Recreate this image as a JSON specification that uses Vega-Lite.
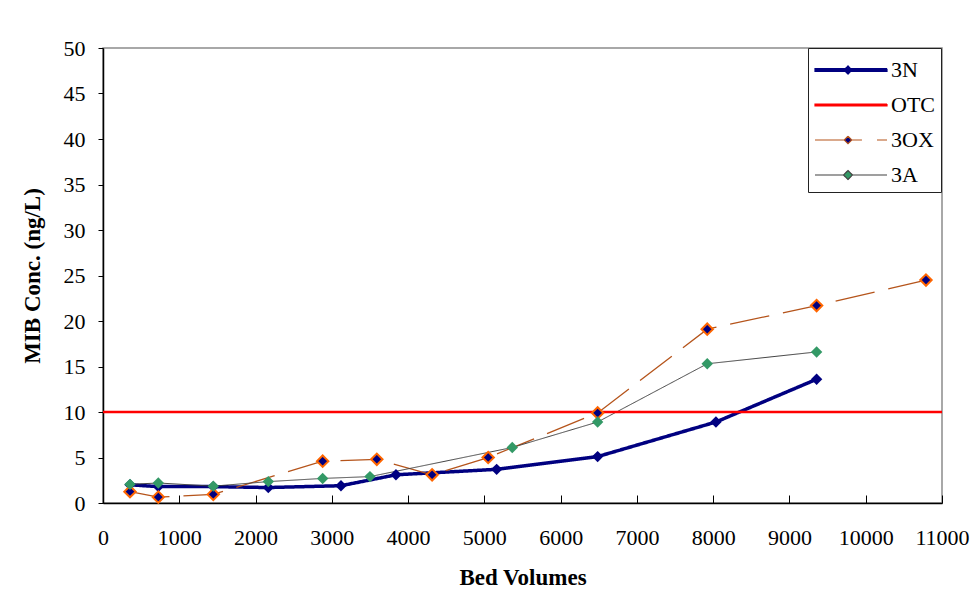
{
  "$schema": "https://vega.github.io/schema/vega-lite/v6.json",
  "width": 839,
  "height": 455,
  "autosize": {"type": "none"},
  "padding": {"left": 103, "top": 48, "right": 29, "bottom": 101},
  "background": "white",
  "config": {
    "view": {"stroke": "#8c8c8c", "strokeWidth": 1.5},
    "font": "Liberation Serif",
    "axis": {
      "grid": false,
      "domainColor": "#000000",
      "domainWidth": 1.5,
      "tickColor": "#000000",
      "tickWidth": 1,
      "labelFont": "Liberation Serif",
      "labelFontSize": 22,
      "labelColor": "#000000",
      "titleFont": "Liberation Serif",
      "titleFontSize": 23,
      "titleFontWeight": "bold",
      "titleColor": "#000000"
    }
  },
  "datasets": {
    "mib": [
      {"series": "3N", "bv": 354, "mib": 2.0},
      {"series": "3N", "bv": 725, "mib": 1.8},
      {"series": "3N", "bv": 1446, "mib": 1.8},
      {"series": "3N", "bv": 2167, "mib": 1.7},
      {"series": "3N", "bv": 3120, "mib": 1.9},
      {"series": "3N", "bv": 3841, "mib": 3.1},
      {"series": "3N", "bv": 5161, "mib": 3.7},
      {"series": "3N", "bv": 6485, "mib": 5.1},
      {"series": "3N", "bv": 8036, "mib": 8.9},
      {"series": "3N", "bv": 9356, "mib": 13.6},
      {"series": "OTC", "bv": null, "mib": 10},
      {"series": "3OX", "bv": 354, "mib": 1.25},
      {"series": "3OX", "bv": 725, "mib": 0.65},
      {"series": "3OX", "bv": 1446, "mib": 0.95},
      {"series": "3OX", "bv": 2880, "mib": 4.6},
      {"series": "3OX", "bv": 3590, "mib": 4.8},
      {"series": "3OX", "bv": 4315, "mib": 3.1},
      {"series": "3OX", "bv": 5050, "mib": 5.0},
      {"series": "3OX", "bv": 6485, "mib": 9.9},
      {"series": "3OX", "bv": 7922, "mib": 19.1},
      {"series": "3OX", "bv": 9356, "mib": 21.7},
      {"series": "3OX", "bv": 10790, "mib": 24.5},
      {"series": "3A", "bv": 354, "mib": 2.05},
      {"series": "3A", "bv": 725, "mib": 2.2},
      {"series": "3A", "bv": 1446, "mib": 1.85},
      {"series": "3A", "bv": 2167, "mib": 2.35},
      {"series": "3A", "bv": 2880, "mib": 2.7},
      {"series": "3A", "bv": 3500, "mib": 2.9},
      {"series": "3A", "bv": 5366, "mib": 6.1},
      {"series": "3A", "bv": 6485, "mib": 8.9},
      {"series": "3A", "bv": 7922, "mib": 15.3},
      {"series": "3A", "bv": 9356, "mib": 16.6}
    ]
  },
  "data": {"name": "mib"},
  "layer": [
    {
      "transform": [{"filter": "datum.series !== 'OTC'"}],
      "mark": {"type": "line", "clip": false},
      "encoding": {
        "x": {
          "field": "bv", "type": "quantitative", "title": "Bed Volumes",
          "scale": {"domain": [0, 11000], "nice": false, "zero": true},
          "axis": {
            "values": [0, 1000, 2000, 3000, 4000, 5000, 6000, 7000, 8000, 9000, 10000, 11000],
            "format": "d", "tickSize": -8, "labelPadding": 32, "labelFlush": false,
            "labelOverlap": false, "titlePadding": 18
          }
        },
        "y": {
          "field": "mib", "type": "quantitative", "title": "MIB Conc. (ng/L)",
          "scale": {"domain": [0, 50], "nice": false},
          "axis": {
            "values": [0, 5, 10, 15, 20, 25, 30, 35, 40, 45, 50],
            "format": "d", "tickSize": 5, "labelPadding": 13, "labelFlush": false,
            "labelOverlap": false, "titlePadding": 19
          }
        },
        "stroke": {
          "field": "series", "type": "nominal",
          "scale": {"domain": ["3N", "OTC", "3OX", "3A"], "range": ["#000080", "#ff0000", "#b5541b", "#404040"]},
          "legend": {
            "title": null, "orient": "none", "legendX": 705, "legendY": 0,
            "symbolSize": 900, "symbolStrokeWidth": 1.2, "labelOffset": 45, "rowPadding": 8, "padding": 6,
            "strokeColor": "#222222", "fillColor": "white", "labelFont": "Liberation Serif", "labelFontSize": 22,
            "labelColor": "#000000", "zindex": 1,
            "encode": {
              "symbols": {
                "update": {
                  "size": {"value": 900},
                  "strokeWidth": {"value": 1.2},
                  "shape": {"signal": "datum.value === '3N' ? 'M-1,-0.09H3.8V0.09H-1ZM1.2,-0.27L1.47,0L1.2,0.27L0.93,0Z' : datum.value === 'OTC' ? 'M-1,-0.06H3.8V0.06H-1Z' : datum.value === '3OX' ? 'M-1,0H0.93M1.47,0H2.13M3.13,0H3.8M1.2,-0.25L1.45,0L1.2,0.25L0.95,0Z' : 'M-1,0H0.9M1.5,0H3.8M1.2,-0.3L1.5,0L1.2,0.3L0.9,0Z'"},
                  "fill": {"signal": "datum.value === '3N' ? '#000080' : datum.value === 'OTC' ? '#ff0000' : datum.value === '3OX' ? '#000080' : '#339966'"},
                  "opacity": {"value": 1},
                  "stroke": {"signal": "datum.value === '3N' ? '#000080' : datum.value === 'OTC' ? '#ff0000' : datum.value === '3OX' ? '#dc6018' : '#404040'"},
                  "strokeDash": {"value": [1, 0]}
                }
              }
            }
          }
        },
        "strokeWidth": {
          "field": "series", "type": "nominal",
          "scale": {"type": "ordinal", "domain": ["3N", "OTC", "3OX", "3A"], "range": [3.5, 3, 1.3, 1]},
          "legend": null
        },
        "strokeDash": {
          "field": "series", "type": "nominal",
          "scale": {"domain": ["3N", "OTC", "3OX", "3A"], "range": [[1, 0], [1, 0], [40, 14], [1, 0]]},
          "legend": null
        }
      }
    },
    {
      "transform": [{"filter": "datum.series === 'OTC'"}],
      "mark": {"type": "rule"},
      "encoding": {
        "y": {"field": "mib", "type": "quantitative"},
        "stroke": {"field": "series", "type": "nominal", "legend": null},
        "strokeWidth": {"field": "series", "type": "nominal", "legend": null}
      }
    },
    {
      "transform": [{"filter": "datum.series !== 'OTC'"}],
      "mark": {"type": "point", "shape": "diamond", "filled": true, "size": 130, "opacity": 1, "clip": false},
      "encoding": {
        "x": {"field": "bv", "type": "quantitative"},
        "y": {"field": "mib", "type": "quantitative"},
        "fill": {
          "field": "series", "type": "nominal",
          "scale": {"domain": ["3N", "3OX", "3A"], "range": ["#000080", "#000080", "#339966"]},
          "legend": null
        },
        "stroke": {"condition": {"test": "datum.series === '3OX'", "value": "#ff6600"}, "value": "transparent"},
        "strokeWidth": {"value": 2}
      }
    }
  ]
}
